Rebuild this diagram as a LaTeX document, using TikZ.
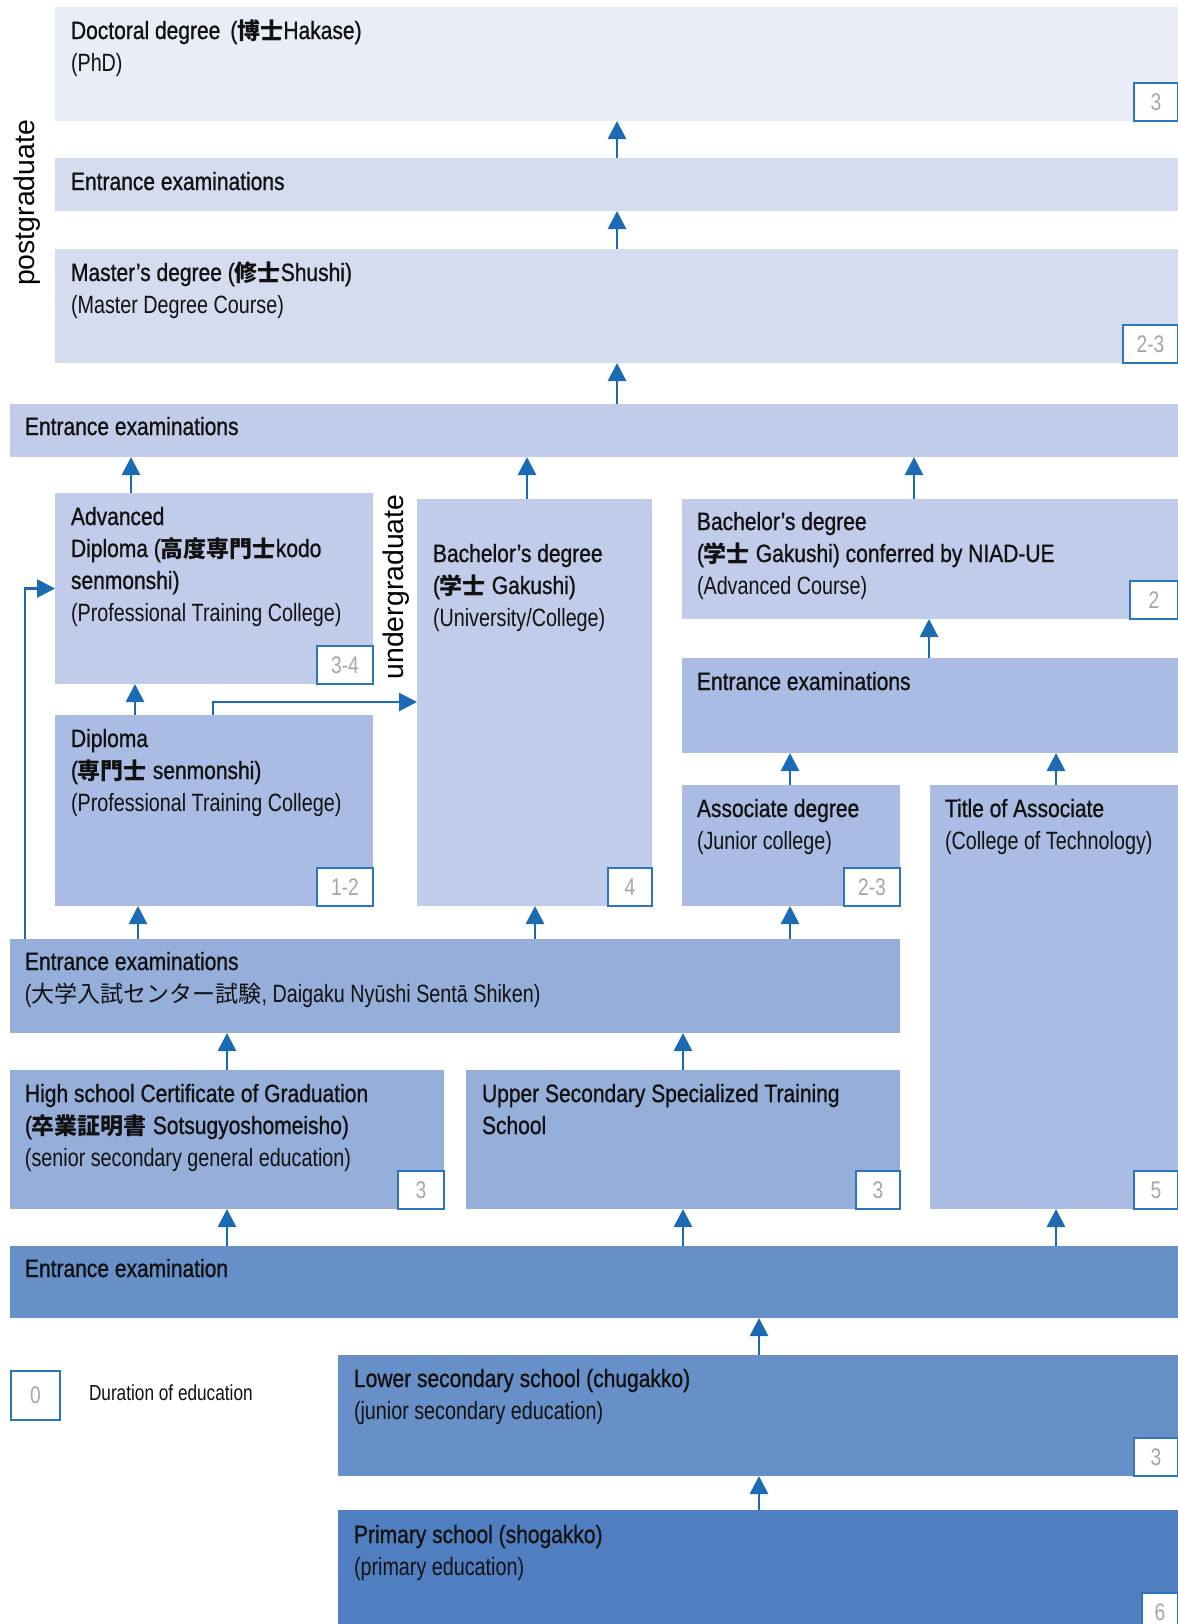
\documentclass[tikz,border=0pt]{standalone}
\usepackage{fontspec}
\setmainfont{Liberation Sans}[FakeStretch=0.8]
\newfontfamily\tfont{Liberation Sans}[FakeStretch=0.84,FakeBold=0.9]
\newfontfamily\sfontb{Liberation Sans}[FakeStretch=0.79]
\newfontfamily\rfont{Liberation Sans}
\newfontfamily\cjk{Noto Sans CJK JP}[Scale=0.92]
\usetikzlibrary{arrows.meta}

\definecolor{cA}{HTML}{E8EDF8}
\definecolor{cB}{HTML}{D5DCF0}
\definecolor{cC}{HTML}{C0CCEA}
\definecolor{cD}{HTML}{AABCE3}
\definecolor{cE}{HTML}{95AEDA}
\definecolor{cF}{HTML}{678FC8}
\definecolor{cG}{HTML}{4F7FC1}
\definecolor{arrc}{HTML}{1A6AB4}
\definecolor{badgec}{HTML}{2E75C0}
\definecolor{numc}{HTML}{A6A6A6}
\definecolor{txtc}{HTML}{111111}

\newcommand\cjb[1]{{\cjk\bfseries #1}}
\newcommand\cjr[1]{{\cjk #1}}
\newcommand\tl[1]{{\tfont #1}}
\newcommand\sbt[1]{{\sfontb #1}}
\newcommand\lns[1]{\begin{tabular}[t]{@{}l@{}}#1\end{tabular}}
\newcommand\bx[6]{\node[fill=#6, draw=none, inner sep=0pt, outer sep=0pt, anchor=north west,
  minimum width={(#4-#2)*0.5pt}, minimum height={(#5-#3)*0.5pt}] (#1) at (#2,#3) {};}

\begin{document}
\begin{tikzpicture}[x=0.5pt,y=-0.5pt,
  arr/.style={draw=arrc, line width=1.4pt, -{Triangle[width=9pt,length=9pt]}},
  badge/.style={draw=badgec, line width=1pt, fill=white, inner sep=0pt, outer sep=0pt,
    minimum height=19pt, minimum width=22pt, anchor=south east, text=numc,
    font=\fontsize{12}{12}\selectfont},
  txt/.style={inner sep=0pt, outer sep=0pt, anchor=base west, text=txtc,
    font=\fontsize{12.5}{16}\selectfont},
  vlabel/.style={inner sep=0pt, rotate=90, text=black, font=\rfont\fontsize{14.2}{16}\selectfont}]

\useasboundingbox (0,0) rectangle (1178,1624);
\fill[white] (0,0) rectangle (1178,1624);

% ---------- boxes ----------
\bx{doc}{55}{7}{1178}{121}{cA}
\bx{pge}{55}{158}{1178}{211}{cB}
\bx{mas}{55}{249}{1178}{363}{cB}
\bx{emain}{10}{404}{1178}{457}{cC}
\bx{adv}{55}{493}{373}{684}{cC}
\bx{bach}{417}{499}{652}{906}{cC}
\bx{niad}{682}{499}{1178}{619}{cC}
\bx{eright}{682}{658}{1178}{753}{cD}
\bx{dip}{55}{715}{373}{906}{cD}
\bx{asso}{682}{785}{900}{906}{cD}
\bx{toa}{930}{785}{1178}{1209}{cD}
\bx{etest}{10}{939}{900}{1033}{cE}
\bx{hs}{10}{1070}{444}{1209}{cE}
\bx{uss}{466}{1070}{900}{1209}{cE}
\bx{ebot}{10}{1246}{1178}{1318}{cF}
\bx{low}{338}{1355}{1178}{1476}{cF}
\bx{prim}{338}{1510}{1178}{1631}{cG}

% ---------- badges ----------
\node[badge] (doc-d) at (doc.south east) {3};
\node[badge, minimum width=27.5pt] (mas-d) at (mas.south east) {2-3};
\node[badge, minimum width=28pt] (adv-d) at (adv.south east) {3-4};
\node[badge] (bach-d) at (bach.south east) {4};
\node[badge, minimum width=24pt] (niad-d) at (niad.south east) {2};
\node[badge, minimum width=28pt] (dip-d) at (dip.south east) {1-2};
\node[badge, minimum width=28pt] (asso-d) at (asso.south east) {2-3};
\node[badge] (toa-d) at (toa.south east) {5};
\node[badge, minimum width=23pt] (hs-d) at (hs.south east) {3};
\node[badge] (uss-d) at (uss.south east) {3};
\node[badge] (low-d) at (low.south east) {3};
\node[badge, minimum width=18pt] (prim-d) at (prim.south east) {6};

% ---------- texts ----------
\node[txt] (doc-t) at (71,39) {\lns{\tl{Doctoral degree \,(\cjb{博士}Hakase)}\\ \sbt{(PhD)}}};
\node[txt] (pge-t) at (71,190) {\tl{Entrance examinations}};
\node[txt] (mas-t) at (71,281) {\lns{\tl{Master’s degree (\cjb{修士}Shushi)}\\ \sbt{(Master Degree Course)}}};
\node[txt] (emain-t) at (25,435) {\tl{Entrance examinations}};
\node[txt] (adv-t) at (71,525) {\lns{\tl{Advanced}\\ \tl{Diploma (\cjb{高度専門士}kodo}\\ \tl{senmonshi)}\\ \sbt{(Professional Training College)}}};
\node[txt] (bach-t) at (433,562) {\lns{\tl{Bachelor’s degree}\\ \tl{(\cjb{学士} Gakushi)}\\ \sbt{(University/College)}}};
\node[txt] (niad-t) at (697,530) {\lns{\tl{Bachelor’s degree}\\ \tl{(\cjb{学士} Gakushi) conferred by NIAD-UE}\\ \sbt{(Advanced Course)}}};
\node[txt] (eright-t) at (697,690) {\tl{Entrance examinations}};
\node[txt] (dip-t) at (71,747) {\lns{\tl{Diploma}\\ \tl{(\cjb{専門士} senmonshi)}\\ \sbt{(Professional Training College)}}};
\node[txt] (asso-t) at (697,817) {\lns{\tl{Associate degree}\\ \sbt{(Junior college)}}};
\node[txt] (toa-t) at (945,817) {\lns{\tl{Title of Associate}\\ \sbt{(College of Technology)}}};
\node[txt] (etest-t) at (25,970) {\lns{\tl{Entrance examinations}\\ \sbt{(\cjr{大学入試センター試験}, Daigaku Nyūshi Sentā Shiken)}}};
\node[txt] (hs-t) at (25,1102) {\lns{\tl{High school Certificate of Graduation}\\ \tl{(\cjb{卒業証明書} Sotsugyoshomeisho)}\\ \sbt{(senior secondary general education)}}};
\node[txt] (uss-t) at (482,1102) {\lns{\tl{Upper Secondary Specialized Training}\\ \tl{School}}};
\node[txt] (ebot-t) at (25,1277) {\tl{Entrance examination}};
\node[txt] (low-t) at (354,1387) {\lns{\tl{Lower secondary school (chugakko)}\\ \sbt{(junior secondary education)}}};
\node[txt] (prim-t) at (354,1543) {\lns{\tl{Primary school (shogakko)}\\ \sbt{(primary education)}}};

% side labels
\node[vlabel] (pg-l) at (27,203) {postgraduate};
\node[vlabel] (ug-l) at (396,587) {undergraduate};

% legend
\node[draw=badgec, line width=1pt, fill=white, inner sep=0pt, minimum width=24.5pt,
  minimum height=24.5pt, anchor=north west, text=numc, font=\fontsize{12}{12}\selectfont]
  (leg) at (10,1370) {0};
\node[txt, font=\fontsize{10.9}{12}\selectfont] (leg-t) at (89,1400) {\sbt{Duration of education}};

% ---------- connector columns ----------
\coordinate (c1) at (617,0);
\coordinate (c2) at (131,0);
\coordinate (c3) at (527,0);
\coordinate (c4) at (914,0);
\coordinate (c5) at (929,0);
\coordinate (c6) at (135,0);
\coordinate (c7) at (790,0);
\coordinate (c8) at (1056,0);
\coordinate (c9) at (138,0);
\coordinate (c10) at (535,0);
\coordinate (c11) at (227,0);
\coordinate (c12) at (683,0);
\coordinate (c13) at (759,0);
\coordinate (lx) at (25,0);
\coordinate (db) at (213,702);

% ---------- connectors ----------
\draw[arr] (pge.north -| c1) -- (doc.south -| c1);
\draw[arr] (mas.north -| c1) -- (pge.south -| c1);
\draw[arr] (emain.north -| c1) -- (mas.south -| c1);
\draw[arr] (adv.north -| c2) -- (emain.south -| c2);
\draw[arr] (bach.north -| c3) -- (emain.south -| c3);
\draw[arr] (niad.north -| c4) -- (emain.south -| c4);
\draw[arr] (eright.north -| c5) -- (niad.south -| c5);
\draw[arr] (dip.north -| c6) -- (adv.south -| c6);
\draw[arr] (dip.north -| db) |- (bach.west |- db);
\draw[arr] (asso.north -| c7) -- (eright.south -| c7);
\draw[arr] (toa.north -| c8) -- (eright.south -| c8);
\draw[arr] (etest.north -| c9) -- (dip.south -| c9);
\draw[arr] (etest.north -| c10) -- (bach.south -| c10);
\draw[arr] (etest.north -| c7) -- (asso.south -| c7);
\draw[arr] (etest.north -| lx) |- (adv.west);
\draw[arr] (hs.north -| c11) -- (etest.south -| c11);
\draw[arr] (uss.north -| c12) -- (etest.south -| c12);
\draw[arr] (ebot.north -| c11) -- (hs.south -| c11);
\draw[arr] (ebot.north -| c12) -- (uss.south -| c12);
\draw[arr] (ebot.north -| c8) -- (toa.south -| c8);
\draw[arr] (low.north -| c13) -- (ebot.south -| c13);
\draw[arr] (prim.north -| c13) -- (low.south -| c13);
\end{tikzpicture}
\end{document}
